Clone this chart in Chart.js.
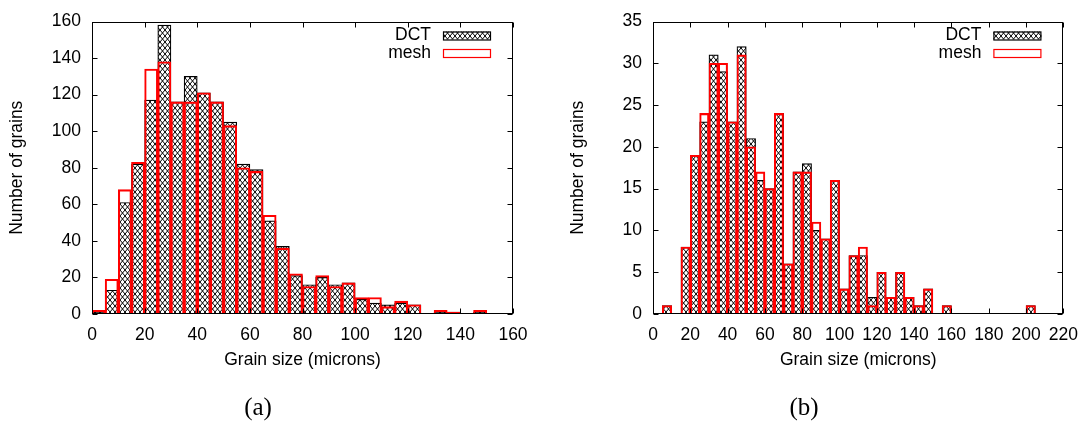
<!DOCTYPE html>
<html>
<head>
<meta charset="utf-8">
<script src="https://cdn.jsdelivr.net/npm/chart.js@4"></script>
<style>
  body { margin: 0; background: #fff; width: 1089px; height: 422px; position: relative; overflow: hidden; }
  .box { position: absolute; top: 0; height: 422px; }
  .caption { position: absolute; top: 392px; font-family: "Liberation Serif", serif; font-size: 25px; line-height: 30px; color: #000; transform: translateX(-50%); }
</style>
</head>
<body>
<div class="box" id="boxA" style="left:0; width:540px;"><canvas id="chartA"></canvas></div>
<div class="box" id="boxB" style="left:561px; width:528px;"><canvas id="chartB"></canvas></div>
<div class="caption" style="left:258px;">(a)</div>
<div class="caption" style="left:804px;">(b)</div>
<script>
// bin width in microns, bins start at 0
const binWidth = 5;

// (a) counts per 5 micron bin, from 0
const binsA = [0, 5, 10, 15, 20, 25, 30, 35, 40, 45, 50, 55, 60, 65, 70, 75, 80, 85, 90, 95, 100, 105, 110, 115, 120, 125, 130, 135, 140, 145];
const dctA  = [1, 13, 61, 82, 117, 158, 116, 130, 121, 116, 105, 82, 79, 51, 37, 21, 16, 20, 16, 17, 8, 6, 5, 6, 5, 0, 1, 1, 0, 1];
const meshA = [2, 19, 68, 83, 134, 138, 116, 116, 121, 116, 103, 80, 78, 54, 36, 22, 15, 21, 15, 17, 9, 9, 4, 7, 5, 0, 2, 1, 0, 2];

// (b) counts per 5 micron bin, from 0
const binsB = [0, 5, 10, 15, 20, 25, 30, 35, 40, 45, 50, 55, 60, 65, 70, 75, 80, 85, 90, 95, 100, 105, 110, 115, 120, 125, 130, 135, 140, 145, 150, 155, 160, 165, 170, 175, 180, 185, 190, 195, 200];
const dctB  = [0, 1, 0, 8, 19, 23, 31, 29, 23, 32, 21, 16, 15, 24, 6, 17, 18, 10, 9, 16, 3, 7, 7, 2, 5, 2, 5, 2, 1, 3, 0, 1, 0, 0, 0, 0, 0, 0, 0, 0, 1];
const meshB = [0, 1, 0, 8, 19, 24, 30, 30, 23, 31, 20, 17, 15, 24, 6, 17, 17, 11, 9, 16, 3, 7, 8, 1, 5, 2, 5, 2, 1, 3, 0, 1, 0, 0, 0, 0, 0, 0, 0, 0, 1];

const seriesLabels = ['DCT', 'mesh'];
const xTitle = 'Grain size (microns)';
const yTitle = 'Number of grains';

const font = { family: '"Liberation Sans", Arial, sans-serif', size: 17.5 };
const tickLen = 5;

// cross hatch pattern like gnuplot fillstyle pattern 2
function makeHatch() {
    const w = 5, h = 6;
    const c = document.createElement('canvas');
    c.width = w;
    c.height = h;
    const g = c.getContext('2d');
    g.fillStyle = '#fff';
    g.fillRect(0, 0, w, h);
    g.strokeStyle = '#000';
    g.lineWidth = 1;
    g.beginPath();
    g.moveTo(-0.5, -0.6); g.lineTo(w + 0.5, h + 0.6);
    g.moveTo(w + 0.5, -0.6); g.lineTo(-0.5, h + 0.6);
    g.stroke();
    return g.createPattern(c, 'repeat');
}
const hatch = makeHatch();

function toPoints(bins, values) {
    return bins.map((b, i) => ({ x: b + binWidth / 2, y: values[i] }));
}

// frame, mirrored inward ticks and the key, drawn gnuplot style
const gnuplotLook = {
    id: 'gnuplotLook',
    afterDatasetsDraw(chart) {
        const { ctx, chartArea: a, scales: { x, y } } = chart;
        const l = Math.round(a.left) + 0.5, r = Math.round(a.right) - 0.5;
        const t = Math.round(a.top) + 0.5, b = Math.round(a.bottom) - 0.5;
        ctx.save();
        ctx.strokeStyle = '#000';
        ctx.lineWidth = 1;
        ctx.beginPath();
        x.ticks.forEach(tk => {
            const px = Math.round(x.getPixelForValue(tk.value)) + 0.5;
            ctx.moveTo(px, b); ctx.lineTo(px, b - tickLen);
            ctx.moveTo(px, t); ctx.lineTo(px, t + tickLen);
        });
        y.ticks.forEach(tk => {
            const py = Math.round(y.getPixelForValue(tk.value)) + 0.5;
            ctx.moveTo(l, py); ctx.lineTo(l + tickLen, py);
            ctx.moveTo(r, py); ctx.lineTo(r - tickLen, py);
        });
        ctx.stroke();
        ctx.strokeRect(l, t, r - l, b - t);

        // key
        const boxW = 48, boxH = 8;
        const boxRight = a.right - 22;
        ctx.font = font.size + 'px ' + font.family;
        ctx.textAlign = 'right';
        ctx.textBaseline = 'middle';
        chart.data.datasets.forEach((ds, i) => {
            const cy = a.top + 14 + i * 17.5;
            ctx.fillStyle = '#000';
            ctx.fillText(ds.label, boxRight - boxW - 12, cy);
            ctx.fillStyle = ds.backgroundColor;
            ctx.fillRect(boxRight - boxW, cy - boxH / 2, boxW, boxH);
            ctx.strokeStyle = ds.borderColor;
            ctx.lineWidth = 1.2;
            ctx.strokeRect(boxRight - boxW + 0.5, cy - boxH / 2 + 0.5, boxW - 1, boxH);
        });
        ctx.restore();
    }
};

function drawHistogram(canvasId, bins, dct, mesh, xMax, yMax, yStep, rightPad) {
    const ctx = document.getElementById(canvasId).getContext('2d');
    return new Chart(ctx, {
        type: 'bar',
        data: {
            datasets: [{
                label: seriesLabels[0],
                data: toPoints(bins, dct),
                backgroundColor: hatch,
                borderColor: '#000',
                borderWidth: 1.2,
                order: 1
            }, {
                label: seriesLabels[1],
                data: toPoints(bins, mesh),
                backgroundColor: 'rgba(255,255,255,0)',
                borderColor: '#ff0000',
                borderWidth: 1.4,
                order: 0
            }]
        },
        options: {
            responsive: true,
            maintainAspectRatio: false,
            animation: false,
            grouped: false,
            barPercentage: 1,
            categoryPercentage: 1,
            layout: { padding: { left: 0, right: rightPad, top: 16, bottom: 0 } },
            plugins: {
                legend: { display: false },
                tooltip: { enabled: false }
            },
            scales: {
                x: {
                    type: 'linear',
                    offset: false,
                    min: 0,
                    max: xMax,
                    grid: { display: false, drawTicks: false },
                    border: { display: false },
                    ticks: { stepSize: 20, autoSkip: false, maxRotation: 0, padding: 11, color: '#000', font: font },
                    title: { display: true, text: xTitle, color: '#000', font: font, padding: { top: 0, bottom: 51 } },
                    afterFit: scale => { scale.height = 108; }
                },
                y: {
                    min: 0,
                    max: yMax,
                    grid: { display: false, drawTicks: false },
                    border: { display: false },
                    ticks: { stepSize: yStep, padding: 11, color: '#000', font: font },
                    title: { display: true, text: yTitle, color: '#000', font: font, padding: { top: 7, bottom: 0 } },
                    afterFit: scale => { scale.width = 92; }
                }
            }
        },
        plugins: [gnuplotLook]
    });
}

drawHistogram('chartA', binsA, dctA, meshA, 160, 160, 20, 27);
drawHistogram('chartB', binsB, dctB, meshB, 220, 35, 5, 22);
</script>
</body>
</html>
